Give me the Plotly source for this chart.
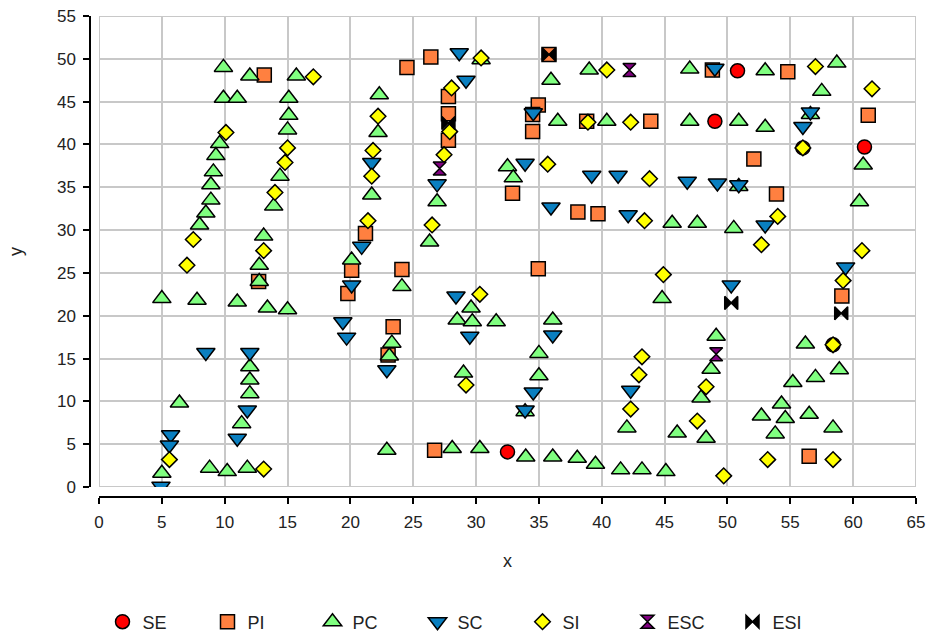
import plotly.graph_objects as go

# ---- data -------------------------------------------------------------
se_x = [32.5, 49.0, 50.8, 56.0, 60.9, 58.4]
se_y = [4.1, 42.7, 48.6, 39.6, 39.7, 16.6]

pi_x = [13.15, 12.7, 19.8, 20.1, 24.1, 21.2, 23.4, 23.0, 24.5, 26.4, 27.8, 27.8,
        27.8, 26.7, 32.9, 34.95, 34.5, 34.5, 34.95, 35.8, 38.8, 43.9, 38.1, 39.7,
        48.8, 54.8, 52.1, 53.9, 61.2, 59.1, 56.5]
pi_y = [48.1, 24.0, 22.6, 25.3, 25.4, 29.6, 18.7, 15.4, 49.0, 50.2, 45.6, 43.6,
        40.5, 4.3, 34.3, 44.6, 43.5, 41.5, 25.5, 50.5, 42.7, 42.7, 32.1, 31.9,
        48.7, 48.5, 38.3, 34.2, 43.4, 22.3, 3.6]

pc_x = [9.9, 12.0, 9.9, 11.0, 15.7, 15.1, 15.1, 15.0, 9.6, 9.3, 9.1, 8.9, 8.9,
        8.5, 8.0, 14.4, 13.9, 13.1, 12.75, 12.75, 5.0, 7.8, 11.0, 13.4, 15.0,
        12.0, 12.0, 12.0, 6.4, 11.35, 5.0, 8.8, 10.2, 11.8,
        22.3, 22.2, 21.7, 26.9, 26.3, 30.4, 20.1, 24.1, 23.3, 23.1, 29.6, 28.5,
        29.7, 31.6, 29.0, 22.9, 28.1, 30.3,
        39.0, 47.0, 35.96, 36.5, 40.4, 47.0, 32.5, 32.96, 45.6, 47.6,
        53.0, 58.7, 57.5, 50.9, 53.0, 56.6, 60.8, 50.9, 60.5, 50.5,
        44.8, 36.1, 35.0, 35.0, 33.9, 42.0, 46.0, 47.9, 48.3, 33.95, 36.1, 38.05,
        39.5, 41.5, 43.2, 45.1,
        49.1, 48.7, 56.2, 58.9, 57.0, 55.2, 54.3, 52.7, 54.6, 56.5, 53.8, 58.4]
pc_y = [49.0, 48.0, 45.4, 45.4, 48.0, 45.4, 43.4, 41.7, 40.1, 38.7, 36.8, 35.3,
        33.5, 32.0, 30.6, 36.3, 32.8, 29.3, 25.9, 24.0, 22.0, 21.8, 21.6, 20.9,
        20.7, 14.05, 12.5, 10.9, 9.8, 7.4, 1.6, 2.2, 1.8, 2.2,
        45.8, 41.4, 34.1, 33.3, 28.6, 49.9, 26.5, 23.4, 16.8, 15.3, 20.9, 19.5,
        19.3, 19.3, 13.3, 4.3, 4.5, 4.5,
        48.7, 48.8, 47.5, 42.7, 42.7, 42.7, 37.4, 36.1, 30.8, 30.8,
        48.6, 49.5, 46.2, 42.7, 42.0, 43.5, 37.6, 35.1, 33.3, 30.2,
        22.0, 19.5, 15.6, 13.0, 8.8, 6.9, 6.3, 10.4, 5.7, 3.5, 3.5, 3.35,
        2.65, 2.0, 2.0, 1.8,
        17.6, 13.75, 16.7, 13.7, 12.8, 12.2, 9.7, 8.3, 8.0, 8.5, 6.2, 6.9]

sc_x = [8.5, 12.0, 11.8, 5.7, 5.6, 11.0, 4.93,
        28.66, 29.2, 21.7, 26.9,
        20.9, 20.1, 19.4, 19.7, 22.9, 28.4, 29.5,
        33.9, 34.55, 35.96, 39.2, 41.3, 42.1, 46.8,
        49.0, 49.2, 50.9, 56.6, 56.0, 53.0,
        36.1, 34.55, 33.9, 42.3, 50.3, 59.4]
sc_y = [15.7, 15.7, 9.0, 6.1, 4.9, 5.7, 0.1,
        50.7, 47.5, 37.9, 35.4,
        28.1, 23.6, 19.3, 17.5, 13.7, 22.3, 17.6,
        37.8, 43.7, 32.7, 36.4, 36.4, 31.8, 35.7,
        48.9, 35.5, 35.3, 43.8, 42.1, 30.6,
        17.75, 11.1, 9.0, 11.3, 23.6, 25.7]

si_x = [10.1, 15.0, 14.8, 14.0, 7.5, 13.1, 7.0, 5.6, 13.1,
        17.05, 22.2, 21.8, 21.7, 21.4, 28.05, 27.9, 27.45, 26.5, 30.4,
        30.3, 29.2,
        35.7, 38.9, 42.3, 40.4, 43.8, 43.4,
        44.9, 43.2, 42.96, 42.3, 47.6, 48.3,
        57.0, 61.5, 56.0, 54.0, 52.7,
        60.7, 59.2, 58.4, 53.2, 58.4, 49.7]
si_y = [41.4, 39.6, 37.9, 34.4, 28.9, 27.6, 25.9, 3.2, 2.1,
        47.9, 43.3, 39.3, 36.3, 31.1, 46.6, 41.5, 38.8, 30.6, 50.1,
        22.5, 11.9,
        37.7, 42.6, 42.6, 48.7, 36.0, 31.1,
        24.8, 15.2, 13.1, 9.1, 7.7, 11.7,
        49.1, 46.5, 39.6, 31.6, 28.3,
        27.6, 24.1, 16.6, 3.2, 3.2, 1.3]

esc_x = [27.1, 42.2, 49.1]
esc_y = [37.2, 48.7, 15.5]

esi_x = [35.8, 50.3, 59.05, 27.8]
esi_y = [50.5, 21.5, 20.3, 42.5]

x_ticks = list(range(0, 70, 5))
y_ticks = list(range(0, 60, 5))

# ---- series styling -----------------------------------------------------
series = [
    ("SE", se_x, se_y, "circle", "#FF0000", 14),
    ("PI", pi_x, pi_y, "square", "#FF8040", 14),
    ("PC", pc_x, pc_y, "triangle-up", "#80FF80", 16),
    ("SC", sc_x, sc_y, "triangle-down", "#0A7FC0", 16),
    ("SI", si_x, si_y, "diamond", "#FFFF00", 12),
    ("ESC", esc_x, esc_y, "hourglass", "#800080", 13),
    ("ESI", esi_x, esi_y, "bowtie", "#000000", 13),
]

fig = go.Figure()
for name, xs, ys, sym, col, size in series:
    fig.add_trace(go.Scatter(
        x=xs, y=ys, mode="markers", name=name,
        marker=dict(symbol=sym, color=col, size=size,
                    line=dict(color="#000000", width=1.5)),
    ))

font = "Liberation Sans, Arial, sans-serif"
W, H = 930, 636
ml, mr, mt, mb = 90, 14, 16, 139
pw = W - ml - mr
ph = H - mt - mb

fig.update_layout(
    width=W, height=H,
    margin=dict(l=ml, r=mr, t=mt, b=mb, autoexpand=False),
    plot_bgcolor="white", paper_bgcolor="white",
    font=dict(family=font, size=17, color="#222222"),
    showlegend=True,
    legend=dict(orientation="h", x=(470 - ml) / pw, xanchor="center",
                y=(ph - (622 - mt)) / ph, yanchor="middle",
                font=dict(size=18), itemsizing="trace",
                entrywidth=60, entrywidthmode="pixels"),
    xaxis=dict(range=[0, 65], domain=[9 / pw, 1], anchor="free", position=0,
               tickvals=x_ticks, showgrid=True, gridcolor="#C8C8C8", gridwidth=2,
               zeroline=False, showline=True, linecolor="#000000", linewidth=1.5,
               ticks="outside", ticklen=6, tickwidth=1.5, tickcolor="#000000",
               ticklabelstandoff=4,
               title=dict(text="x", standoff=22, font=dict(size=18))),
    yaxis=dict(range=[0, 55], domain=[10 / ph, 1], anchor="free", position=0,
               tickvals=y_ticks, showgrid=True, gridcolor="#C8C8C8", gridwidth=2,
               zeroline=False, showline=True, linecolor="#000000", linewidth=1.5,
               ticks="outside", ticklen=6, tickwidth=1.5, tickcolor="#000000",
               ticklabelstandoff=4,
               title=dict(text="y", standoff=29, font=dict(size=18))),
)

# light frame around the data region
fig.add_shape(type="rect", xref="x", yref="y", x0=0, x1=65, y0=0, y1=55,
              line=dict(color="#C8C8C8", width=2), layer="below")

fig.write_html("out.html")
